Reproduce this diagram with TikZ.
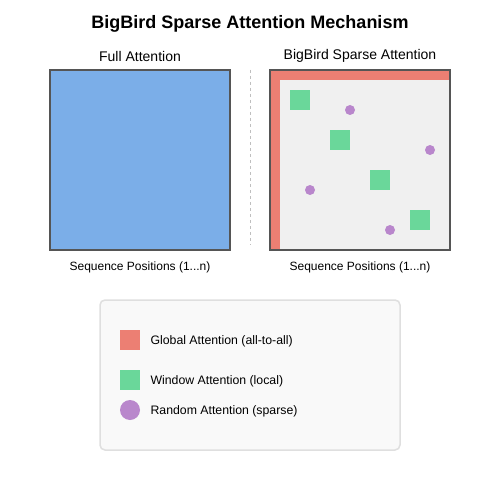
\documentclass[tikz,border=0pt]{standalone}
\usepackage{fontspec}
\setmainfont{Liberation Sans}
\definecolor{fullblue}{HTML}{7BAEE8}
\definecolor{globalred}{HTML}{EC7F73}
\definecolor{windowgreen}{HTML}{6AD79A}
\definecolor{randompurple}{HTML}{B987CC}
\definecolor{framegray}{HTML}{555555}
\tikzset{
    matrixbox/.style={draw=framegray, line width=1.5pt},
    winblock/.style={fill=windowgreen},
    randdot/.style={fill=randompurple},
    caption/.style={font=\fontsize{12}{14}\selectfont},
    heading/.style={font=\fontsize{14}{16}\selectfont},
    legendtext/.style={font=\fontsize{12.3}{14}\selectfont, anchor=west}
}
\begin{document}
\begin{tikzpicture}[x=1pt, y=-1pt]
            \useasboundingbox (0,0) rectangle (500,500);
            \fill[white] (0,0) rectangle (500,500);
            \node[font=\bfseries\fontsize{18}{20}\selectfont] (title) at (250,24) {BigBird Sparse Attention Mechanism};
            % full attention
            \node[heading] (fulltitle) at (140,56) {Full Attention};
            \draw[matrixbox, fill=fullblue] (50,70) rectangle (230,250);
            \node[caption] (fullcap) at (140,267) {Sequence Positions (1...n)};
            \draw[dashed, draw=gray!50, line width=1pt] (250,70) -- (250,245);
            % sparse attention
            \node[heading] (sparsetitle) at (360,56) {BigBird Sparse Attention};
            \fill[gray!12] (270,70) rectangle (450,250);
            \fill[globalred] (270,70) rectangle (450,80);
            \fill[globalred] (270,70) rectangle (280,250);
            \foreach \p in {0,1,2,3}
                \fill[winblock] (290+40*\p,90+40*\p) rectangle +(20,20);
            \foreach \x/\y in {350/110, 430/150, 310/190, 390/230}
                \fill[randdot] (\x,\y) circle (5);
            \draw[matrixbox] (270,70) rectangle (450,250);
            \node[caption] (sparsecap) at (360,267) {Sequence Positions (1...n)};
            % legend
            \draw[draw=gray!25, fill=gray!5, line width=1.5pt, rounded corners=5] (100,300) rectangle (400,450);
            \fill[globalred] (120,330) rectangle (140,350);
            \node[legendtext] (globalkey) at (147,341) {Global Attention (all-to-all)};
            \fill[winblock] (120,370) rectangle (140,390);
            \node[legendtext] (windowkey) at (147,381) {Window Attention (local)};
            \fill[randdot] (130,410) circle (10);
            \node[legendtext] (randomkey) at (147,411) {Random Attention (sparse)};
        \end{tikzpicture}
\end{document}
